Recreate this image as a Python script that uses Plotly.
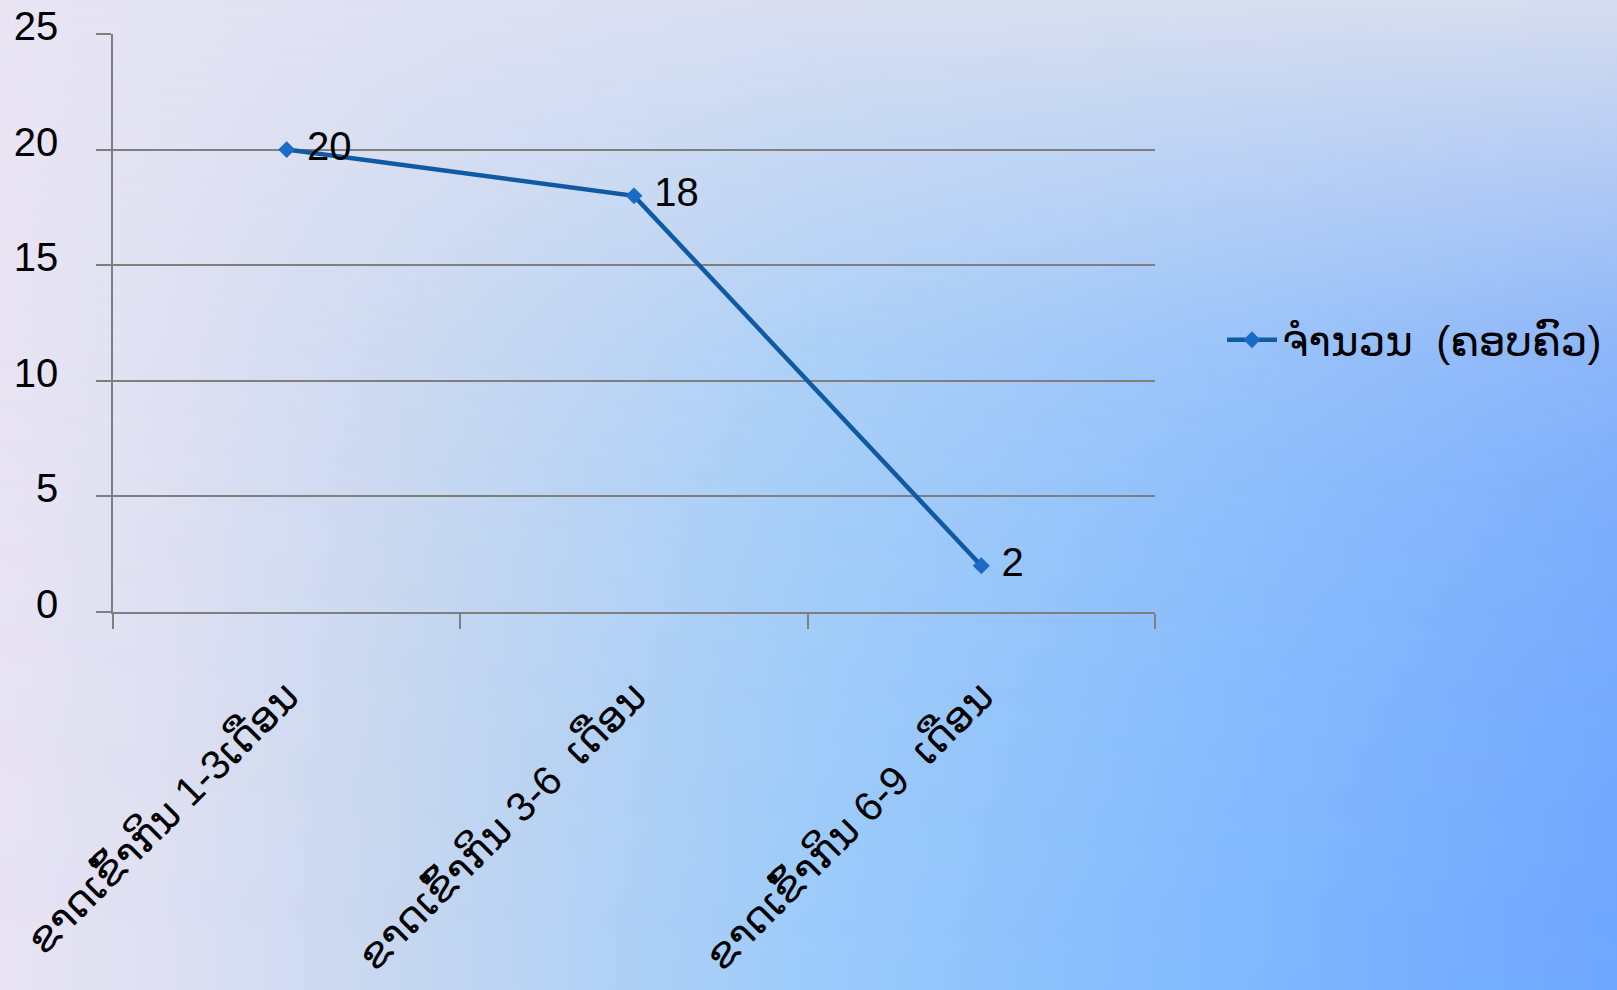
import base64
import plotly.graph_objects as go

# ---- data ----
categories = ["ຂາດເຂົ້າກິນ 1-3ເດືອນ", "ຂາດເຂົ້າກິນ 3-6  ເດືອນ", "ຂາດເຂົ້າກິນ 6-9  ເດືອນ"]
values = [20, 18, 2]
series_name = "ຈຳນວນ  (ຄອບຄົວ)"
y_ticks = [0, 5, 10, 15, 20, 25]

W, H = 1617, 990
FONT = "Liberation Sans, Arial, DejaVu Sans, sans-serif"

# ---- background gradient (decorative, SVG image) ----
bottom_stops = [(0, "#E8E4F4"), (0.1, "#DEE0F2"), (0.25, "#C6D7F0"), (0.5, "#9CCBFA"),
                (0.75, "#82BAFE"), (1, "#6EA6FE")]
top_stops = [(0, "#E8E4F4"), (0.25, "#DEE1F2"), (0.5, "#D8DEF0"), (1, "#D6DDEF")]
mask_stops = [(0, 1.0), (0.15, 0.7), (0.35, 0.3), (0.5, 0.16), (0.7, 0.08), (1, 0.0)]


def stops_svg(stops):
    return "".join(f'<stop offset="{o}" stop-color="{c}"/>' for o, c in stops)


def mask_svg(stops):
    out = ""
    for o, v in stops:
        g = int(round(v * 255))
        out += f'<stop offset="{o}" stop-color="rgb({g},{g},{g})"/>'
    return out


svg = (
    f'<svg xmlns="http://www.w3.org/2000/svg" width="{W}" height="{H}" '
    f'viewBox="0 0 {W} {H}" preserveAspectRatio="none">'
    '<defs>'
    f'<linearGradient id="b" x1="0" y1="0" x2="1" y2="0">{stops_svg(bottom_stops)}</linearGradient>'
    f'<linearGradient id="t" x1="0" y1="0" x2="1" y2="0">{stops_svg(top_stops)}</linearGradient>'
    f'<linearGradient id="v" x1="0" y1="0" x2="0" y2="1">{mask_svg(mask_stops)}</linearGradient>'
    f'<mask id="m"><rect x="0" y="0" width="{W}" height="{H}" fill="url(#v)"/></mask>'
    '</defs>'
    f'<rect x="0" y="0" width="{W}" height="{H}" fill="url(#b)"/>'
    f'<rect x="0" y="0" width="{W}" height="{H}" fill="url(#t)" mask="url(#m)"/>'
    '</svg>'
)
bg_src = "data:image/svg+xml;base64," + base64.b64encode(svg.encode()).decode()

# ---- plot geometry (pixels) ----
px_left, px_right = 113, 1155
px_top, px_bottom = 34, 612

fig = go.Figure()
fig.add_trace(go.Scatter(
    x=categories, y=values, name=series_name,
    mode="lines+markers+text",
    text=[" " + str(v) for v in values],
    textposition="middle right",
    textfont=dict(family=FONT, size=40, color="#000000"),
    line=dict(color="#0F5AA3", width=4.5),
    marker=dict(symbol="diamond", size=13, color="#1A6AC6"),
    cliponaxis=False,
))

grid_col = "#7F7F7F"
fig.update_layout(
    width=W, height=H,
    margin=dict(l=0, r=0, t=0, b=0, autoexpand=False),
    paper_bgcolor="rgba(0,0,0,0)",
    plot_bgcolor="rgba(0,0,0,0)",
    font=dict(family=FONT, size=40, color="#000000"),
    images=[dict(source=bg_src, xref="paper", yref="paper", x=0, y=1, sizex=1, sizey=1,
                 xanchor="left", yanchor="top", sizing="stretch", layer="below")],
    xaxis=dict(
        domain=[px_left / W, px_right / W],
        type="category",
        range=[-0.5, len(categories) - 0.5],
        tickson="boundaries",
        ticks="outside", ticklen=15, tickwidth=1.5, tickcolor=grid_col,
        showline=True, linecolor=grid_col, linewidth=1.5,
        showgrid=False, zeroline=False,
        tickangle=-45,
        tickfont=dict(family=FONT, size=41, color="#000000"),
        ticklabelstandoff=42,
        automargin=False,
    ),
    yaxis=dict(
        domain=[1 - px_bottom / H, 1 - px_top / H],
        range=[0, 25],
        tickvals=y_ticks,
        ticks="outside", ticklen=15, tickwidth=1.5, tickcolor=grid_col,
        showline=True, linecolor=grid_col, linewidth=1.5,
        showgrid=True, gridcolor=grid_col, gridwidth=1.5,
        zeroline=False,
        tickfont=dict(family=FONT, size=40, color="#000000"),
        ticklabelstandoff=30,
        ticklabelshift=-8,
        automargin=False,
    ),
    legend=dict(
        x=1222 / W, y=1 - 340 / H, xanchor="left", yanchor="middle",
        bgcolor="rgba(0,0,0,0)",
        itemwidth=50,
        font=dict(family=FONT, size=42, color="#000000"),
    ),
    showlegend=True,
)

fig.write_html("out.html", post_script="document.body.style.margin='0';",
               config={"displayModeBar": False})
